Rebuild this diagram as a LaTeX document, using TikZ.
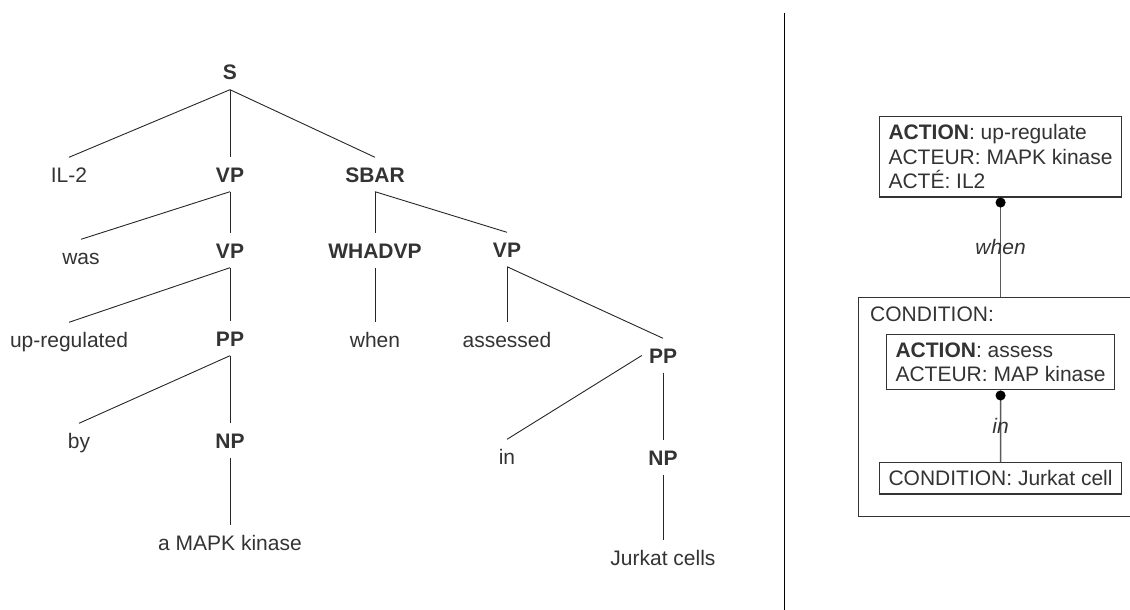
\documentclass[tikz,border=0pt]{standalone}
\usepackage{fontspec}
\setmainfont{Liberation Sans}
\usetikzlibrary{arrows.meta}
\definecolor{ink}{HTML}{333333}
\definecolor{rule}{HTML}{5A5A5A}

\begin{document}
\begin{tikzpicture}[x=1pt, y=-1pt,
    every node/.style={font=\fontsize{21}{24.5}\selectfont, text=ink},
    word/.style={anchor=base, inner xsep=7pt, inner ysep=9.5pt, text height=15pt, text depth=0pt},
    cat/.style={word, font=\fontsize{21}{24.5}\selectfont\bfseries},
    branch/.style={draw=black!85, line width=0.9pt},
    frame/.style={draw=ink, line width=1.1pt, anchor=north west, align=left, inner xsep=9pt, inner ysep=8pt},
    link/.style={draw=rule, line width=1.4pt},
    lbl/.style={font=\fontsize{21}{24.5}\selectfont\itshape, inner sep=0pt}]
    \useasboundingbox (0,0) rectangle (1130,610);
    % parse tree
    \foreach \n/\x/\y/\t in {s/230/80/S, vpa/230/182/VP, sbar/375/182/SBAR, vpb/230/258/VP,
        whadvp/375/258/WHADVP, vpc/507/257/VP, ppa/230/346/PP, ppb/663/363/PP,
        npa/230/448/NP, npb/663/465/NP}
        {\node[cat] (\n) at (\x,\y) {\t};}
    \foreach \n/\x/\y/\t in {il2/69/182/IL-2, was/81/264/was, upreg/69/347/up-regulated,
        whenw/375/347/when, assessed/507/347/assessed, by/79/448/by, inw/507/464/in,
        mapk/230/550/a MAPK kinase, jurkat/663/565/Jurkat cells}
        {\node[word] (\n) at (\x,\y) {\t};}
    \foreach \a/\b in {s/il2, s/vpa, s/sbar, vpa/was, vpa/vpb, sbar/whadvp, sbar/vpc,
        vpb/upreg, vpb/ppa, whadvp/whenw, vpc/assessed, vpc/ppb, ppa/by, ppa/npa,
        npa/mapk, ppb/npb, npb/jurkat}
        {\draw[branch] (\a.south) -- (\b.north);}
    \draw[branch] (ppb.west) -- (inw.north);
    % separator
    \draw[line width=0.9pt] (784,13) -- (784,612);
    % frames
    \node[frame] (acta) at (879,116) {\textbf{ACTION}: up-regulate\\ACTEUR: MAPK kinase\\ACTÉ: IL2};
    \node[draw=ink, line width=1.1pt, anchor=north west, minimum width=282pt,
        minimum height=219pt, inner sep=0pt] (cond) at (858,297) {};
    \node[anchor=base west, inner sep=0pt] (condlbl) at (870,321) {CONDITION:};
    \node[frame] (actb) at (886,334) {\textbf{ACTION}: assess\\ACTEUR: MAP kinase};
    \node[frame] (cellbox) at (879,462) {CONDITION: Jurkat cell};
    \draw[link, {Circle[length=10pt, color=black]}-] (acta.south) -- (acta.south |- cond.north)
        node[midway, lbl] (whenlbl) {when};
    \draw[link, {Circle[length=10pt, color=black]}-] (actb.south) -- (cellbox.north)
        node[midway, lbl] (inlbl) {in};
\end{tikzpicture}
\end{document}
